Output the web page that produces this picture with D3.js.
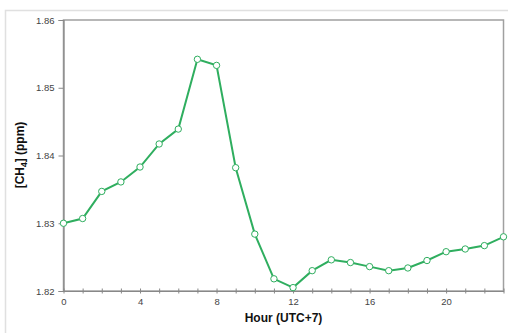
<!DOCTYPE html>
<html><head><meta charset="utf-8">
<script src="https://cdn.jsdelivr.net/npm/d3@7"></script>
<style>body{margin:0;background:#fff;}svg{display:block;font-family:Arial,"Liberation Sans",sans-serif;}</style>
</head><body>
<svg id="c" width="508" height="333"></svg>
<script>
const hours = [0,1,2,3,4,5,6,7,8,9,10,11,12,13,14,15,16,17,18,19,20,21,22,23];
const ch4 = [1.8300,1.8307,1.8347,1.8361,1.8383,1.8417,1.8439,1.8542,1.8533,1.8382,1.8284,1.8218,1.8205,1.8230,1.8246,1.8242,1.8236,1.8230,1.8234,1.8245,1.8258,1.8262,1.8267,1.8280];
const xTicks = [0,4,8,12,16,20];
const yTicks = [1.82,1.83,1.84,1.85,1.86];

const svg = d3.select("#c");
const L=63.5, R=503.5, T=20, B=291;
const x = d3.scaleLinear().domain([0,23]).range([L,R]);
const y = d3.scaleLinear().domain([1.82,1.86]).range([B,T]);

// outer frame
svg.append("path").attr("d",`M5.5,333 L5.5,10.5 L508,10.5`).attr("fill","none").attr("stroke","#e0e0e0").attr("stroke-width",1.5);

// plot frame
svg.append("rect").attr("x",L).attr("y",T).attr("width",R-L).attr("height",B-T)
  .attr("fill","none").attr("stroke","#a0a0a0").attr("stroke-width",1.5);

// y axis
const ya = svg.append("g").attr("transform",`translate(${L},0)`)
  .call(d3.axisLeft(y).tickValues(yTicks).tickFormat(d3.format(".2f")).tickSize(5).tickPadding(4));
ya.select(".domain").attr("stroke","#888").attr("stroke-width",1.2);
ya.selectAll(".tick line").attr("stroke","#888");
ya.selectAll("text").attr("fill","#444").style("font-size","9.5px");

// x axis minor ticks
const xa = svg.append("g").attr("transform",`translate(0,${B})`)
  .call(d3.axisBottom(x).tickValues(hours).tickSize(0).tickSizeInner(0).tickPadding(7)
    .tickFormat(d => xTicks.includes(d) ? d : ""));
xa.select(".domain").attr("stroke","#888").attr("stroke-width",1.2);
xa.selectAll(".tick line").attr("y1",-2.5).attr("y2",2.5).attr("stroke","#888");
xa.selectAll("text").attr("fill","#444").style("font-size","9.5px");

// line
const col = "#2fae5f";
svg.append("path").datum(hours.map((h,i)=>[h,ch4[i]]))
  .attr("fill","none").attr("stroke",col).attr("stroke-width",2)
  .attr("d", d3.line().x(d=>x(d[0])).y(d=>y(d[1])));
svg.selectAll("circle.p").data(hours).enter().append("circle")
  .attr("cx",d=>x(d)).attr("cy",(d,i)=>y(ch4[i])).attr("r",3.2)
  .attr("fill","#fff").attr("stroke",col).attr("stroke-width",1);

// axis titles
svg.append("text").attr("x",(L+R)/2).attr("y",322).attr("text-anchor","middle")
  .style("font-size","12px").style("font-weight","bold").attr("fill","#111").text("Hour (UTC+7)");
const yt = svg.append("text").attr("transform",`translate(24,155) rotate(-90)`)
  .attr("text-anchor","middle").style("font-size","12px").style("font-weight","bold").attr("fill","#111");
yt.append("tspan").text("[CH");
yt.append("tspan").attr("dy",3).style("font-size","8.5px").text("4");
yt.append("tspan").attr("dy",-3).text("] (ppm)");
</script>
</body></html>
